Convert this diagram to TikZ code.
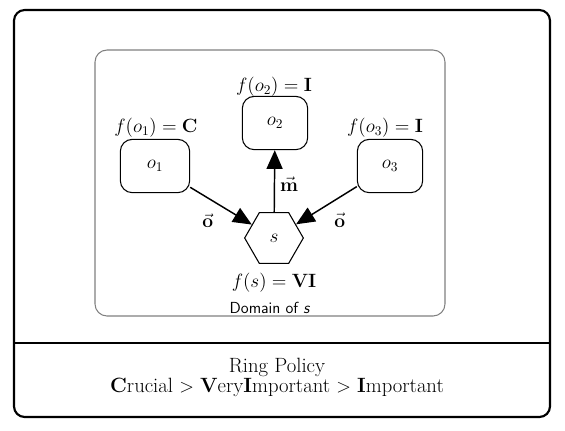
\documentclass[tikz,border=0pt]{standalone}
\usetikzlibrary{shapes.geometric,arrows.meta}
\begin{document}
\begin{tikzpicture}[x=0.75pt,y=0.75pt,yscale=-1,xscale=1,
  objbox/.style={draw,rounded corners=9pt,minimum width=49pt,minimum height=40pt,line width=0.8pt,font=\Large},
  subjhex/.style={draw,regular polygon,regular polygon sides=6,minimum size=44pt,inner sep=0pt,line width=0.8pt,font=\Large},
  flow/.style={line width=1.1pt,-{Triangle[length=14pt,width=12pt]}},
  lbl/.style={font=\Large,inner sep=0.75pt}]
\useasboundingbox (0,0) rectangle (565,430);

%Shape: Outer frame
\draw [line width=1.6pt,rounded corners=8pt] (14,10) rectangle (550,417) ;
\draw [line width=2pt] (14,343) -- (550,343) ;
%Shape: Domain box
\draw [color=gray,line width=0.8pt,rounded corners=9pt] (95,50) rectangle (445,316) ;

% Objects and subject
\node [objbox,minimum width=52pt] (o1) at (155,166) {$o_1$};
\node [objbox] (o2) at (275,123) {$o_2$};
\node [objbox] (o3) at (390,166) {$o_3$};
\node [subjhex] (s) at (274,238) {$s$};

% Levels
\node [lbl] (fo1) at (156,128) {$f(o_1) = \mathbf{C}$};
\node [lbl] (fo2) at (274,87) {$f(o_2) = \mathbf{I}$};
\node [lbl] (fo3) at (385,128) {$f(o_3) = \mathbf{I}$};
\node [lbl] (fs) at (274,283) {$f(s) = \mathbf{VI}$};
\node [font=\sffamily\large] (dom) at (270,308) {Domain of \textit{s}};

% Flows
\draw [flow] (o1) -- (s) node [midway,below left=2pt,font=\Large] {$\vec{\mathbf{o}}$};
\draw [flow] (o3) -- (s) node [midway,below right=2pt,font=\Large] {$\vec{\mathbf{o}}$};
\draw [flow] (s) -- (o2) node [pos=0.45,right=3pt,inner sep=0.75pt,font=\Large] {$\vec{\mathbf{m}}$};

% Policy
\node [font=\fontsize{15.5}{18}\selectfont] (ring) at (277,367) {Ring Policy};
\node [font=\fontsize{15.5}{18}\selectfont] (order) at (277,387) {\textbf{C}rucial $>$ \textbf{V}ery\textbf{I}mportant $>$ \textbf{I}mportant};

\end{tikzpicture}
\end{document}
